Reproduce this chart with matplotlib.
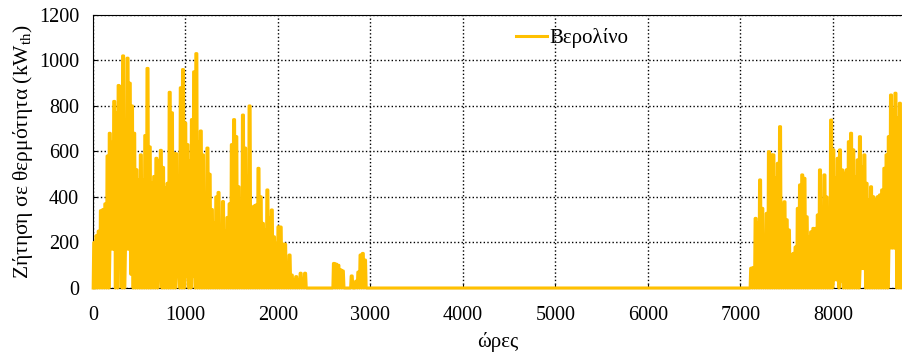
import matplotlib
matplotlib.use("Agg")
import matplotlib.pyplot as plt
import numpy as np

plt.rcParams['font.family'] = ['Liberation Serif', 'DejaVu Serif']
plt.rcParams['mathtext.fontset'] = 'custom'
plt.rcParams['mathtext.rm'] = 'Liberation Serif'

# daily peak / night low values (kW_th), Berlin
winter_start = 0
winter_peaks = [200, 230, 250, 340, 345, 370, 580, 680, 640, 820, 770, 890, 885, 1020, 740, 1010,
                900, 800, 680, 520, 475, 585, 475, 670,
                965, 620, 460, 490, 570, 560, 605, 530, 440, 460, 860, 770, 590, 590, 490, 880,
                960, 725, 630, 560, 740, 950, 1030, 640,
                690, 585, 380, 615, 500, 345, 285, 400, 420, 190, 380, 250, 310, 370, 630, 740,
                665, 445, 360, 760, 615, 490, 800, 330, 360,
                365, 526, 401, 284, 255, 431, 306, 343, 225, 196, 269, 268, 193, 193, 87, 145,
                57, 35, 50, 35, 65, 35, 65]
winter_lows = [0, 0, 0, 0, 0, 0, 0, 0, 170, 170, 0, 0, 180, 0, 0, 170,
               170, 60, 0, 0, 0, 0, 0, 0,
               0, 0, 0, 0, 0, 0, 55, 0, 0, 0, 0, 0, 0, 0, 50, 0,
               0, 0, 50, 0, 0, 50, 0, 0,
               0, 0, 0, 0, 0, 0, 0, 0, 0, 0, 0, 0, 0, 0, 0, 0,
               0, 0, 0, 0, 0, 0, 0, 0, 0,
               0, 0, 0, 0, 0, 0, 0, 0, 0, 0, 0, 0, 0, 0, 0, 0,
               0, 0, 0, 0, 0, 0, 0]

spring_start = 108
spring_peaks = [108, 105, 100, 80, 75, 0, 0, 0, 53, 0, 30, 70, 145, 152, 123]
spring_lows = [0, 0, 0, 0, 0, 0, 0, 0, 0, 0, 0, 0, 0, 0, 0]

autumn_start = 296
autumn_peaks = [87, 90, 306, 284, 475, 350, 175, 328, 599, 585, 585, 482, 548, 709, 365, 379,
                300, 255, 145, 152, 180, 350, 453, 497, 482, 313, 225, 247, 262, 262, 321, 519,
                328, 497, 400, 269, 738, 607, 482, 570, 607, 519, 504, 519, 643, 680, 607, 489,
                563, 665, 533, 585, 460, 387, 445, 401, 387, 401, 409, 431, 526, 585, 665, 848,
                782, 856, 746, 812, 695]
autumn_lows = [0, 0, 0, 0, 0, 0, 0, 0, 0, 0, 0, 0, 0, 0, 0, 0,
               0, 0, 0, 0, 0, 0, 0, 0, 0, 0, 0, 0, 0, 0, 0, 0,
               0, 0, 0, 0, 0, 0, 35, 35, 0, 30, 0, 0, 0, 0, 0, 0,
               0, 0, 85, 85, 0, 0, 0, 0, 0, 0, 0, 0, 0, 0, 0, 175,
               175, 175, 0, 0, 0]

xticks = np.arange(0, 9000, 1000)
yticks = np.arange(0, 1400, 200)

n_days = 365
peaks = np.zeros(n_days)
lows = np.zeros(n_days)
for start, p, l in [(winter_start, winter_peaks, winter_lows),
                    (spring_start, spring_peaks, spring_lows),
                    (autumn_start, autumn_peaks, autumn_lows)]:
    peaks[start:start + len(p)] = p
    lows[start:start + len(l)] = l

# night low, then the peak held through the day
days = np.arange(n_days)
hours = np.column_stack([days * 24 + 2, days * 24 + 8, days * 24 + 19]).ravel()
demand = np.column_stack([lows, peaks, peaks]).ravel()
floor = np.repeat(lows, 3)

color = '#FFC000'
fig = plt.figure(figsize=(9.02, 3.56), dpi=100)
ax = fig.add_axes([0.1031, 0.191, 0.8981, 0.767])
ax.fill_between(hours, floor, demand, color=color, lw=0, zorder=4)
ax.plot(hours, demand, color=color, lw=2.2, label='Βερολίνο', zorder=5, clip_on=False)

ax.set_xlim(0, 8760)
ax.set_ylim(0, 1200)
ax.set_xticks(xticks)
ax.set_yticks(yticks)
ax.tick_params(direction='in', labelsize=14.5, length=3)
ax.tick_params(axis='x', pad=13)
ax.tick_params(axis='y', pad=10)
ax.grid(True, color='black', linestyle=':', linewidth=1.0)
ax.set_axisbelow(True)
for s in ax.spines.values():
    s.set_color('black')

ax.set_xlabel('ώρες', fontsize=15, labelpad=5)
ax.set_ylabel('Ζήτηση σε θερμότητα (kW$_{\\mathrm{th}}$)', fontsize=15.5, labelpad=3)
ax.legend(loc='center', bbox_to_anchor=(0.591, 0.915), frameon=False, fontsize=15,
          handlelength=1.5, handletextpad=0.1)

fig.savefig('out.png', dpi=100)
